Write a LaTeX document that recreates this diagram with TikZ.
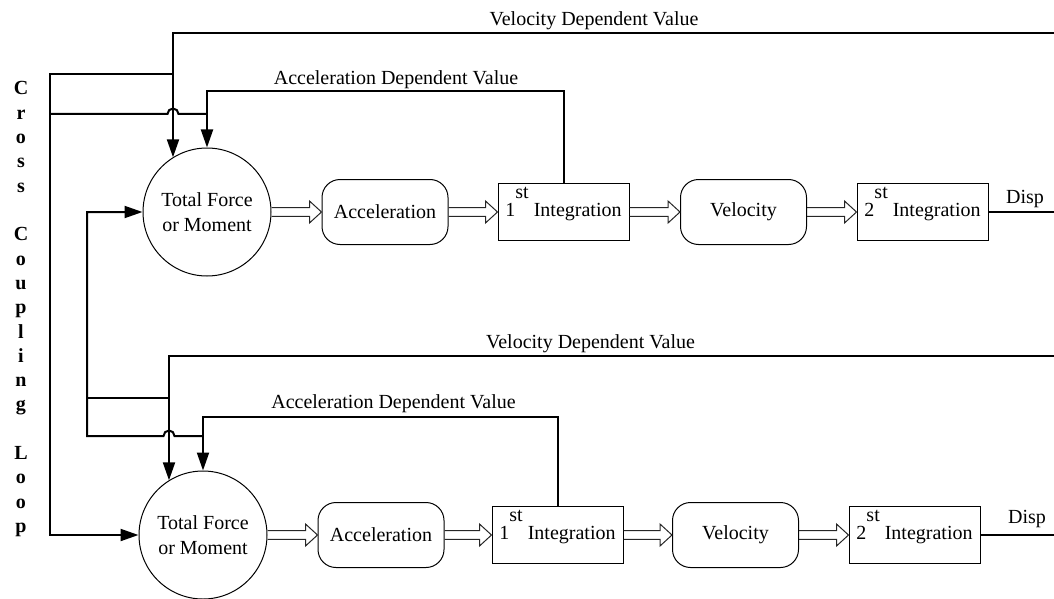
\documentclass[tikz,border=0pt]{standalone}
\usepackage{fontspec}
\setmainfont{Liberation Serif}
\usetikzlibrary{arrows.meta,calc}
\newcommand{\hollowarrow}[2]{%
  \draw[hollow] let \p1=(#1.east), \p2=(#2.west) in
  (\x1,\y1+2.2pt) -- (\x2-6pt,\y1+2.2pt) -- (\x2-6pt,\y1+5.5pt) -- (\x2,\y1)
  -- (\x2-6pt,\y1-5.5pt) -- (\x2-6pt,\y1-2.2pt) -- (\x1,\y1-2.2pt);}
\newcommand{\integ}[2]{#1\raisebox{9pt}[0pt][0pt]{#2}\ Integration}
\begin{document}
\begin{tikzpicture}[x=0.5pt,y=-0.5pt,
  font=\fontsize{10}{12.5}\selectfont,
  sig/.style={line width=1pt, line join=miter},
  sigarrow/.style={sig, -{Triangle[length=9pt,width=6pt]}},
  circ/.style={circle, draw, line width=0.5pt, minimum size=64pt, inner sep=0pt, align=center},
  rbox/.style={draw, rounded corners=9pt, line width=0.5pt, minimum width=63pt, minimum height=32.5pt, inner sep=0pt},
  ibox/.style={draw, line width=0.5pt, minimum width=65.5pt, minimum height=28.5pt, inner sep=0pt},
  hollow/.style={line width=0.5pt, draw=black!85},
  lbl/.style={anchor=base, inner sep=0pt},
  letter/.style={anchor=base, inner sep=0pt, font=\fontsize{10}{12}\selectfont\bfseries}]

\useasboundingbox (0,0) rectangle (1054,599);

% ---- top row ----
\node[circ] (tf1) at (207,212) {Total Force\\or Moment};
\node[rbox] (acc1) at (385,212) {Acceleration};
\node[ibox] (inta1) at (563.5,212) {\integ{1}{st}};
\node[rbox] (vel1) at (743.5,212) {Velocity};
\node[ibox] (intb1) at (922.5,212) {\integ{2}{st}};

% ---- bottom row ----
\node[circ] (tf2) at (203,535) {Total Force\\or Moment};
\node[rbox] (acc2) at (381,535) {Acceleration};
\node[ibox] (inta2) at (557.5,535) {\integ{1}{st}};
\node[rbox] (vel2) at (735.5,535) {Velocity};
\node[ibox] (intb2) at (914.5,535) {\integ{2}{st}};

% hollow arrows
\hollowarrow{tf1}{acc1}
\hollowarrow{acc1}{inta1}
\hollowarrow{inta1}{vel1}
\hollowarrow{vel1}{intb1}
\hollowarrow{tf2}{acc2}
\hollowarrow{acc2}{inta2}
\hollowarrow{inta2}{vel2}
\hollowarrow{vel2}{intb2}

% Disp outputs
\coordinate (d1) at (1054,212);
\coordinate (d2) at (1054,535);
\draw[sig] (intb1.east) -- (d1);
\draw[sig] (intb2.east) -- (d2);
\node[lbl] (disp1) at (1025,203) {Disp};
\node[lbl] (disp2) at (1027,523) {Disp};

% ---- top feedback ----
\coordinate (v1r) at (1054,33);
\coordinate (v1c) at (173,33);
\coordinate (j1) at (173,74);
\coordinate (l1) at (50,74);
\coordinate (a1c) at (207,91);
\coordinate (j2) at (207,114);
\coordinate (h1) at (178.5,114);
\coordinate (l2) at (50,114);

\draw[sigarrow] (v1r) -- (v1c) -- (v1c |- tf1.122);
\draw[sigarrow] (inta1.north) -- (inta1.north |- a1c) -- (a1c) -- (tf1.north);
\draw[sigarrow] (j1) -- (l1) -- (l1 |- tf2.west) -- (tf2.west);
\draw[sig] (j2) -- (h1) arc[start angle=0, end angle=180, radius=2.75pt] -- (l2);

\node[lbl] (vdv1) at (594,26) {Velocity Dependent Value};
\node[lbl] (adv1) at (396,85) {Acceleration Dependent Value};

% ---- bottom feedback ----
\coordinate (v2r) at (1054,356);
\coordinate (v2c) at (169,356);
\coordinate (j3) at (169,398);
\coordinate (m1) at (87,398);
\coordinate (a2c) at (203,417);
\coordinate (j4) at (203,436);
\coordinate (h2) at (174.5,436);
\coordinate (m2) at (87,436);

\draw[sigarrow] (v2r) -- (v2c) -- (v2c |- tf2.122);
\draw[sigarrow] (inta2.north) -- (inta2.north |- a2c) -- (a2c) -- (tf2.north);
\draw[sig] (j3) -- (m1);
\draw[sigarrow] (j4) -- (h2) arc[start angle=0, end angle=180, radius=2.75pt] -- (m2) -- (m2 |- tf1.west) -- (tf1.west);

\node[lbl] (vdv2) at (590.5,348) {Velocity Dependent Value};
\node[lbl] (adv2) at (393.5,408) {Acceleration Dependent Value};

% ---- vertical label ----
\foreach \ch/\k in {C/0,r/1,o/2,s/3,s/4,C/6,o/7,u/8,p/9,l/10,i/11,n/12,g/13,L/15,o/16,o/17,p/18}
  \node[letter] (cc\k) at (21,95+24.3*\k) {\ch};
\end{tikzpicture}
\end{document}
